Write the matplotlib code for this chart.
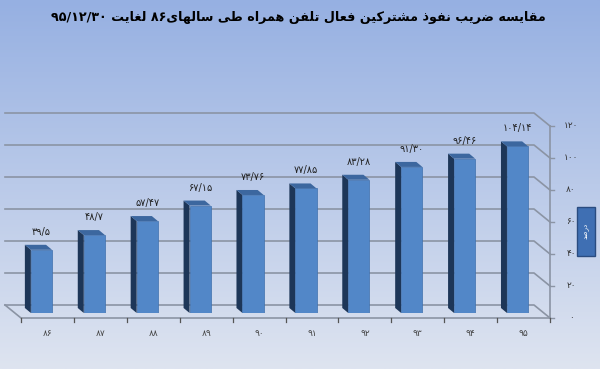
import re

import matplotlib.pyplot as plt
import numpy as np
from matplotlib.patches import Polygon

# Data
years = ['۸۶', '۸۷', '۸۸', '۸۹', '۹۰', '۹۱', '۹۲', '۹۳', '۹۴', '۹۵']
values = [39.5, 48.7, 57.47, 67.15, 73.76, 77.85, 83.28, 91.30, 96.46, 104.14]
value_labels = ['۳۹/۵', '۴۸/۷', '۵۷/۴۷', '۶۷/۱۵', '۷۳/۷۶', '۷۷/۸۵',
                '۸۳/۲۸', '۹۱/۳۰', '۹۶/۴۶', '۱۰۴/۱۴']
y_ticks = [0, 20, 40, 60, 80, 100, 120]
y_tick_labels = ['۰', '۲۰', '۴۰', '۶۰', '۸۰', '۱۰۰', '۱۲۰']
title = 'مقایسه ضریب نفوذ مشترکین فعال تلفن همراه طی سالهای۸۶ لغایت ۹۵/۱۲/۳۰'
box_label = 'درصد'

# Minimal Arabic/Persian shaping (no reshaper installed)
RIGHT_ONLY = {'ا': 0xFE8D, 'د': 0xFEA9, 'ذ': 0xFEAB, 'ر': 0xFEAD,
              'ز': 0xFEAF, 'و': 0xFEED}
DUAL = {'ب': 0xFE8F, 'ت': 0xFE95, 'ث': 0xFE99, 'ج': 0xFE9D, 'ح': 0xFEA1,
        'خ': 0xFEA5, 'س': 0xFEB1, 'ش': 0xFEB5, 'ص': 0xFEB9, 'ض': 0xFEBD,
        'ط': 0xFEC1, 'ظ': 0xFEC5, 'ع': 0xFEC9, 'غ': 0xFECD, 'ف': 0xFED1,
        'ق': 0xFED5, 'ل': 0xFEDD, 'م': 0xFEE1, 'ن': 0xFEE5, 'ه': 0xFEE9,
        'ی': 0xFBFC, 'ک': 0xFB8E}


def shape_run(s):
    out = []
    for k, c in enumerate(s):
        prev = s[k - 1] if k > 0 else ''
        nxt = s[k + 1] if k + 1 < len(s) else ''
        jp = prev in DUAL
        if c in RIGHT_ONLY:
            out.append(chr(RIGHT_ONLY[c] + (1 if jp else 0)))
        elif c in DUAL:
            jn = nxt in DUAL or nxt in RIGHT_ONLY
            idx = 3 if (jp and jn) else 1 if jp else 2 if jn else 0
            out.append(chr(DUAL[c] + idx))
        else:
            out.append(c)
    return ''.join(out)


def rtl(text):
    tokens = [t for t in re.split(r'([۰-۹][۰-۹/]*)', text) if t]
    parts = []
    for tok in reversed(tokens):
        if re.fullmatch(r'[۰-۹][۰-۹/]*', tok):
            parts.append(tok)
        else:
            parts.append(shape_run(tok)[::-1])
    return ''.join(parts)


W, H = 600, 369
fig = plt.figure(figsize=(W / 100, H / 100), dpi=100)

# background gradient
bg = fig.add_axes([0, 0, 1, 1], zorder=-5)
grad = np.linspace(0, 1, 256)[:, None]
top_c = np.array([150, 176, 226]) / 255
bot_c = np.array([222, 228, 240]) / 255
img = top_c * (1 - grad[..., None]) + bot_c * grad[..., None]
bg.imshow(img, aspect='auto', extent=[0, 1, 0, 1])
bg.axis('off')

ax_l, ax_w = 15 / W, 529 / W
ax_b, ax_h = 56 / H, 192 / H
ax = fig.add_axes([ax_l, ax_b, ax_w, ax_h])
ax.set_xlim(-0.5, 9.5)
ax.set_ylim(0, 120)
ax.axis('off')

ppx = ax_w * W / 10.0
ppy = ax_h * H / 120.0

# depth offsets in data units
bx, by = -10 / ppx, 8 / ppy     # back wall
fx, fy = 6 / ppx, -5 / ppy      # front edge
dx, dy = -6 / ppx, 5 / ppy      # bar depth

xmin, xmax = -0.5, 9.5
grid_c = '#8b94a4'
for t, lab in zip(y_ticks, y_tick_labels):
    ax.plot([xmin + bx, xmax + bx, xmax + fx], [t + by, t + by, t + fy],
            color=grid_c, lw=1.2, clip_on=False, zorder=1)
    ax.plot([xmax + fx, xmax + fx + 4 / ppx], [t + fy, t + fy],
            color=grid_c, lw=1, clip_on=False, zorder=1)
    ax.annotate(lab, (xmax + fx, t + fy),
                xytext=(21, 0), textcoords='offset pixels',
                ha='center', va='center', fontsize=6.5, color='#333333',
                annotation_clip=False)

# floor and axis
ax.plot([xmin + bx, xmin + fx, xmax + fx], [by, fy, fy],
        color=grid_c, lw=1.2, clip_on=False, zorder=1)
ax.plot([xmax + fx, xmax + fx], [fy, 120 + fy],
        color=grid_c, lw=1.2, clip_on=False, zorder=1)
for k in range(11):
    ax.plot([xmin + fx + k, xmin + fx + k], [fy, fy - 4 / ppy],
            color='#555555', lw=0.9, clip_on=False, zorder=1)

# bars
front_c, side_c, top_face_c = '#5287c8', '#1d3658', '#3c679f'
x = np.arange(len(values))
ax.bar(x, values, width=0.4, color=front_c, zorder=3,
       edgecolor='#3f70ad', linewidth=0.5)
for i, v in enumerate(values):
    x0, x1 = i - 0.2, i + 0.2
    ax.add_patch(Polygon([(x0, 0), (x0, v), (x0 + dx, v + dy), (x0 + dx, dy)],
                         closed=True, color=side_c, zorder=2.9, lw=0))
    ax.add_patch(Polygon([(x0, v), (x1, v), (x1 + dx, v + dy), (x0 + dx, v + dy)],
                         closed=True, color=top_face_c, zorder=3.1, lw=0))
    ax.annotate(value_labels[i], (i, v), xytext=(0, 18),
                textcoords='offset pixels', ha='center', va='center',
                fontsize=7, color='#222222', annotation_clip=False)
    ax.annotate(years[i], (i + fx, fy), xytext=(0, -15),
                textcoords='offset pixels', ha='center', va='center',
                fontsize=6.5, color='#444444', annotation_clip=False)

# title
fig.text(298 / W, 1 - 18 / H, rtl(title), ha='center', va='center',
         fontsize=9.2, fontweight='bold', color='black',
         family=['DejaVu Sans'])

# legend box
fig.patches.append(plt.Rectangle((577 / W, 1 - 256 / H), 18 / W, 49 / H,
                                 transform=fig.transFigure,
                                 facecolor='#3f6fb3', edgecolor='#2a4c80',
                                 lw=1))
fig.text(586 / W, 1 - 231 / H, rtl(box_label), rotation=90, ha='center',
         va='center', fontsize=5, color='white')

fig.savefig('out.png', dpi=100)
